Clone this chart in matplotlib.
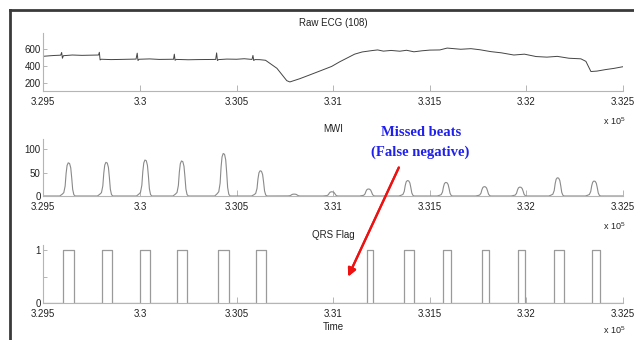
import numpy as np
import matplotlib.pyplot as plt
from matplotlib.lines import Line2D

plt.rcParams["font.family"] = ["Liberation Sans", "DejaVu Sans"]
plt.rcParams["mathtext.default"] = "regular"

W, H = 634, 340

X_START, X_END = 329500, 332500
X_TICKS = [329500, 330000, 330500, 331000, 331500, 332000, 332500]
X_TICK_LABELS = ["3.295", "3.3", "3.305", "3.31", "3.315", "3.32", "3.325"]

# raw ECG (sample index, amplitude)
ECG_T = [329500, 329540, 329560, 329590, 329595, 329599, 329604, 329650, 329700, 329786,
         329790, 329794, 329800, 329850, 329900, 329980, 329986, 329990, 329996, 330050,
         330100, 330174, 330178, 330182, 330188, 330250, 330300, 330392, 330397, 330401,
         330407, 330450, 330500, 330540, 330580, 330585, 330589, 330595, 330620, 330650,
         330709, 330760, 330776, 330827, 330880, 330930, 330992, 331034, 331070, 331111,
         331150, 331200, 331230, 331260, 331300, 331345, 331380, 331418, 331460, 331500,
         331552, 331590, 331625, 331660, 331713, 331760, 331816, 331870, 331935, 331990,
         332050, 332106, 332160, 332220, 332282, 332308, 332334, 332365, 332410, 332453,
         332500]
ECG_V = [515, 522, 525, 528, 560, 492, 522, 530, 526, 530,
         562, 472, 480, 476, 478, 482, 552, 465, 480, 484,
         478, 480, 540, 468, 478, 474, 476, 478, 555, 465,
         476, 482, 480, 486, 478, 525, 465, 476, 475, 468,
         373, 227, 212, 250, 296, 340, 395, 450, 492, 540,
         566, 582, 590, 576, 584, 575, 586, 568, 580, 588,
         590, 612, 605, 598, 605, 592, 570, 556, 530, 540,
         512, 505, 514, 492, 485, 455, 335, 340, 358, 372,
         392]

# MWI bumps: centre and height, plus the bump profile seen in the picture
MWI_PEAK_AT = [329633, 329828, 330030, 330219, 330435, 330626, 330800, 330995,
               331185, 331388, 331586, 331785, 331969, 332164, 332353]
MWI_PEAK_HEIGHT = [71, 72, 77, 75, 91, 54, 4, 9, 15, 33, 29, 20, 19, 39, 32]
MWI_SHAPE_DX = [-48, -36, -27, -20, -15, -10, -4, 3, 9, 14, 19, 25, 32]
MWI_SHAPE_FRAC = [0, 0.05, 0.1, 0.3, 0.68, 0.92, 1, 0.98, 0.85, 0.55, 0.2, 0.04, 0]

# QRS flag pulses
QRS_ON = [329603, 329802, 330000, 330193, 330405, 330600,
          331176, 331369, 331567, 331770, 331957, 332145, 332339]
QRS_OFF = [329659, 329854, 330052, 330245, 330462, 330652,
           331207, 331417, 331610, 331805, 331995, 332193, 332379]


def px_axes(left, top, right, bottom):
    return [left / W, 1 - bottom / H, (right - left) / W, (bottom - top) / H]


def style_axes(ax, title):
    for side in ["top", "right"]:
        ax.spines[side].set_visible(False)
    for side in ["left", "bottom"]:
        ax.spines[side].set_color("#b5b5b5")
        ax.spines[side].set_linewidth(0.8)
    ax.set_xlim(X_START, X_END)
    ax.set_xticks(X_TICKS)
    ax.set_xticklabels(X_TICK_LABELS)
    ax.tick_params(direction="in", length=3, width=0.7, color="#b5b5b5",
                   labelsize=7, labelcolor="#222222", pad=2)
    ax.tick_params(axis="x", length=4, pad=4.5)
    ax.set_title(title, fontsize=7, color="#222222", pad=5)


fig = plt.figure(figsize=(W / 100, H / 100), dpi=100)

# panel 1: raw ECG
ax1 = fig.add_axes(px_axes(43.3, 33, 623, 91))
ax1.plot(ECG_T, ECG_V, color="#444444", lw=0.7)
ax1.set_ylim(105, 790)
ax1.set_yticks([200, 400, 600])
style_axes(ax1, "Raw ECG (108)")

# panel 2: MWI
mwi_x, mwi_y = [X_START], [0]
for c, h in zip(MWI_PEAK_AT, MWI_PEAK_HEIGHT):
    mwi_x += [c + d for d in MWI_SHAPE_DX]
    mwi_y += [h * f for f in MWI_SHAPE_FRAC]
mwi_x.append(X_END)
mwi_y.append(0)

ax2 = fig.add_axes(px_axes(43.3, 139, 623, 196))
ax2.plot(mwi_x, mwi_y, color="#8a8a8a", lw=0.8)
ax2.set_ylim(0, 122)
ax2.set_yticks([0, 50, 100])
style_axes(ax2, "MWI")

# panel 3: QRS flag
qrs_x, qrs_y = [X_START], [0]
for on, off in zip(QRS_ON, QRS_OFF):
    qrs_x += [on, on, off, off]
    qrs_y += [0, 1, 1, 0]
qrs_x.append(X_END)
qrs_y.append(0)

ax3 = fig.add_axes(px_axes(43.3, 245, 623, 303))
ax3.plot(qrs_x, qrs_y, color="#9a9a9a", lw=0.9)
ax3.set_ylim(0, 1.1)
ax3.set_yticks([0, 0.5, 1])
ax3.set_yticklabels(["0", "", "1"])
style_axes(ax3, "QRS Flag")
ax3.set_xlabel("Time", fontsize=7, color="#222222", labelpad=2)

# x 10^5 multipliers
for y_px in [121, 226, 330]:
    fig.text(625 / W, 1 - y_px / H, r"x 10$^5$", fontsize=6.5, color="#222222",
             ha="right", va="center")

# outer frame (top and left edges only)
fig.add_artist(Line2D([9.5 / W, 1], [1 - 10 / H] * 2, transform=fig.transFigure,
                      color="#3a3a3a", lw=2))
fig.add_artist(Line2D([10 / W] * 2, [0, 1 - 9.5 / H], transform=fig.transFigure,
                      color="#3a3a3a", lw=2))

# annotation
fig.text(421 / W, 1 - 133 / H, "Missed beats", fontsize=10.5, fontweight="bold",
         family=["Liberation Serif", "DejaVu Serif"], color="#2020ee",
         ha="center", va="center")
fig.text(420 / W, 1 - 152 / H, "(False negative)", fontsize=10.5, fontweight="bold",
         family=["Liberation Serif", "DejaVu Serif"], color="#2020ee",
         ha="center", va="center")
fig.add_artist(plt.annotate("", xy=(347, H - 279), xytext=(400, H - 165),
                            xycoords="figure pixels", textcoords="figure pixels",
                            arrowprops=dict(arrowstyle="-|>", color="#ee1111",
                                            lw=1.6, mutation_scale=12)))

fig.savefig("out.png", dpi=100)
